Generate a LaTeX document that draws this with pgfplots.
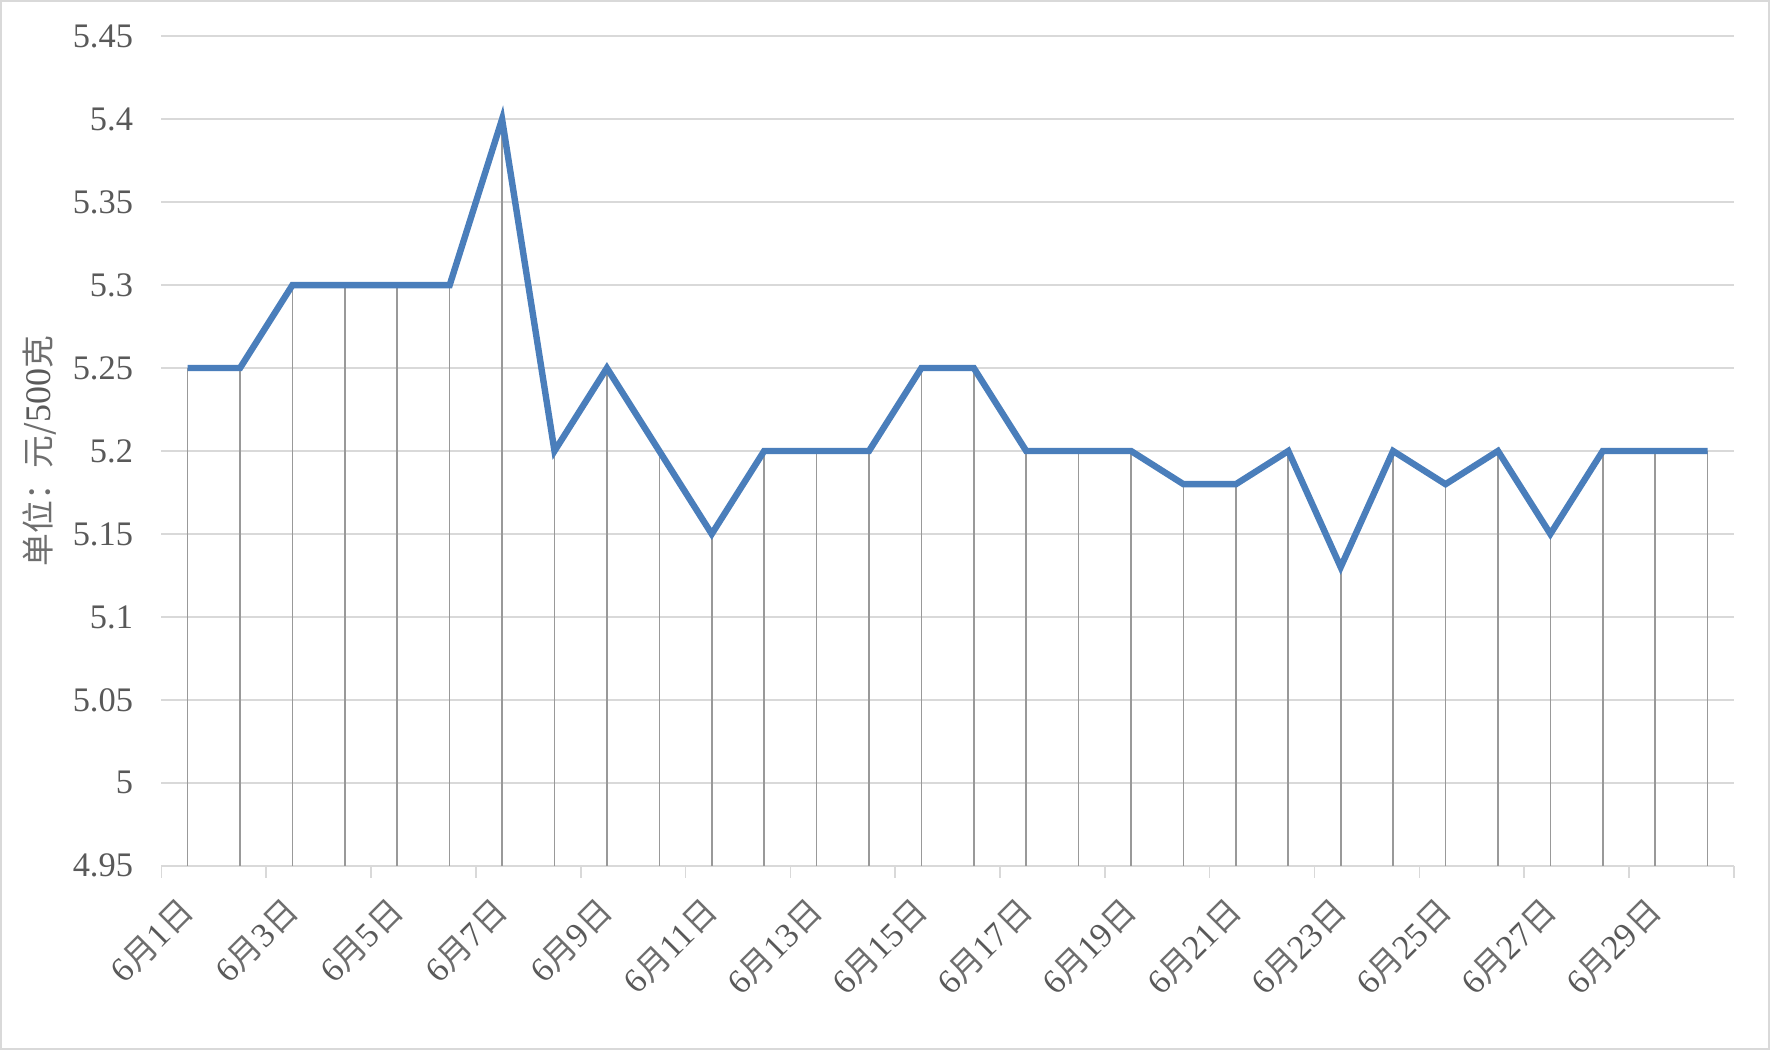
\documentclass[border=0pt]{standalone}
\usepackage{pgfplots}
\pgfplotsset{compat=1.18}
\usetikzlibrary{calc}
\usepackage{fontspec}
\setmainfont{Liberation Serif}
\newfontfamily\cjk{Noto Sans CJK SC}
\definecolor{lineblue}{HTML}{4A7EBB}
\definecolor{txtgray}{HTML}{595959}
\definecolor{cjkgray}{HTML}{6E6E6E}
\definecolor{gridgray}{HTML}{D9D9D9}
\definecolor{dropgray}{HTML}{999999}
\newcommand\dd[1]{6{\cjk\fontsize{8.2}{9}\selectfont\color{cjkgray}月}#1{\cjk\fontsize{8.2}{9}\selectfont\color{cjkgray}日}}
\pgfplotstableread{
x y
0 5.25
1 5.25
2 5.30
3 5.30
4 5.30
5 5.30
6 5.40
7 5.20
8 5.25
9 5.20
10 5.15
11 5.20
12 5.20
13 5.20
14 5.25
15 5.25
16 5.20
17 5.20
18 5.20
19 5.18
20 5.18
21 5.20
22 5.13
23 5.20
24 5.18
25 5.20
26 5.15
27 5.20
28 5.20
29 5.20
}\prices
\begin{document}
\begin{tikzpicture}
\useasboundingbox (0,0) rectangle (442.5pt,262.5pt);
\path[draw=gridgray, line width=0.5pt, fill=white] (0.25pt,0.25pt) rectangle (442.25pt,262.25pt);
\begin{axis}[
  at={(40.35pt,46.05pt)}, anchor=south west,
  scale only axis, width=393.1pt, height=207.4pt,
  xmin=-0.5, xmax=29.5, ymin=4.95, ymax=5.45,
  ytick={4.95,5,5.05,5.1,5.15,5.2,5.25,5.3,5.35,5.4,5.45},
  yticklabel style={/pgf/number format/fixed, /pgf/number format/precision=2, xshift=0.7pt},
  /pgf/number format/assume math mode=true,
  ymajorgrids, grid style={gridgray, line width=0.4pt},
  axis x line*=bottom, axis y line*=left,
  y axis line style={draw=none},
  x axis line style={gridgray, line width=0.4pt, -},
  xtick={0,2,...,28},
  xticklabels={\dd{1},\dd{3},\dd{5},\dd{7},\dd{9},\dd{11},\dd{13},\dd{15},\dd{17},\dd{19},\dd{21},\dd{23},\dd{25},\dd{27},\dd{29}},
  major x tick style={draw=none},
  minor xtick={-0.5,1.5,...,29.5},
  minor x tick style={gridgray, line width=0.4pt},
  tick align=outside, minor tick length=3pt,
  xticklabel style={rotate=45, anchor=east, yshift=-4pt, xshift=-0.5pt},
  ytick style={draw=none},
  tick label style={font=\fontsize{8.6}{10}\selectfont, text=txtgray},
  ylabel={{\cjk\fontsize{8.2}{9}\selectfont\color{cjkgray}单位：元/}500{\cjk\fontsize{8.2}{9}\selectfont\color{cjkgray}克}},
  every axis y label/.style={at={($(rel axis cs:0,0.5)+(-30.5pt,0)$)}, rotate=90, anchor=center, font=\fontsize{9}{10}\selectfont, text=txtgray},
  clip=true,
]
\addplot[ycomb, draw=dropgray, line width=0.4pt, mark=none] table[x=x,y=y] {\prices};
\addplot[lineblue, line width=1.6pt, mark=none] table[x=x,y=y] {\prices};
\end{axis}
\end{tikzpicture}
\end{document}
